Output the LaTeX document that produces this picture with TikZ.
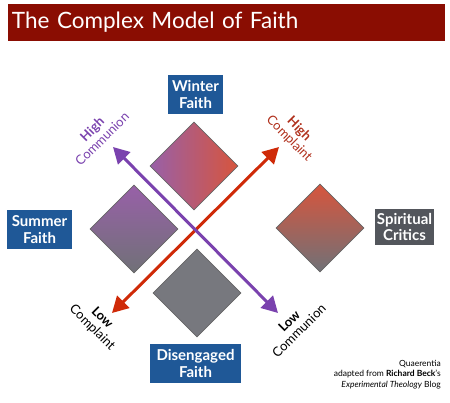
\documentclass[tikz,border=0pt]{standalone}
\usepackage{fontspec}
\setmainfont{Lato}
\usetikzlibrary{positioning}
\usetikzlibrary{arrows.meta}
\usetikzlibrary{shapes.geometric}
\definecolor{titlered}{HTML}{8A0D02}
\definecolor{faithblue}{HTML}{1F5897}
\definecolor{criticgrey}{HTML}{53565C}
\definecolor{commpurple}{HTML}{7A42AE}
\definecolor{complred}{HTML}{CF2A08}
\definecolor{softpurple}{HTML}{9860A8}
\definecolor{softred}{HTML}{D7553D}
\definecolor{slate}{HTML}{707177}
\definecolor{labelred}{HTML}{B0301C}

\begin{document}
\begin{tikzpicture}[x=1pt, y=-1pt,
    every node/.style={align=center},
    quad/.style={diamond, draw=black!60, line width=0.6pt, minimum width=88pt, minimum height=88pt, inner sep=0pt},
    faith/.style={fill=faithblue, text=white, font=\fontsize{15}{16.5}\selectfont\bfseries, inner sep=0pt, minimum height=39pt},
    axis/.style={line width=3pt, {Triangle[length=16pt,width=17pt]}-{Triangle[length=16pt,width=17pt]}},
    pole/.style={font=\fontsize{13}{14}\selectfont, inner sep=1pt}]
    \useasboundingbox (0,0) rectangle (450,403);
    % title bar
    \node[fill=titlered, text=white, font=\fontsize{22.5}{22.5}\selectfont, text width=429pt, align=left,
          inner xsep=4pt, inner ysep=0pt, minimum height=36.5pt] (title) at (226.5,22.5) {The Complex Model of Faith};
    % quadrants
    \node[quad, left color=softpurple, right color=softred] (winter) at (194,166) {};
    \node[quad, top color=softpurple, bottom color=slate] (summer) at (134,229) {};
    \node[quad, top color=softred, bottom color=slate] (critics) at (320,228) {};
    \node[quad, fill=slate!95!white] (disengaged) at (197,293) {};
    % names
    \node[faith, minimum width=55pt] (winterlbl) at (195.5,94.5) {Winter\\Faith};
    \node[faith, minimum width=65pt] (summerlbl) at (39.5,229.5) {Summer\\Faith};
    \node[faith, fill=criticgrey, minimum width=59pt, minimum height=36pt] (criticslbl) at (404.5,227) {Spiritual\\Critics};
    \node[faith, minimum width=91pt] (disengagedlbl) at (195.5,363.5) {Disengaged\\Faith};
    % axes
    \coordinate (hicomm) at (113,147);
    \coordinate (locomm) at (278,313);
    \coordinate (hicompl) at (279,147);
    \coordinate (locompl) at (112,313);
    \draw[axis, complred] (locompl) -- (hicompl);
    \draw[axis, commpurple] (hicomm) -- (locomm);
    % pole labels
    \node[pole, rotate=45, text=commpurple] (hicommlbl) at (97,134) {\textbf{High}\\Communion};
    \node[pole, rotate=-45, text=labelred] (hicompllbl) at (294,134) {\textbf{High}\\Complaint};
    \node[pole, rotate=-45] (locompllbl) at (97,323) {\textbf{Low}\\Complaint};
    \node[pole, rotate=45] (locommlbl) at (294,326) {\textbf{Low}\\Communion};
    % credit
    \node[font=\fontsize{8.5}{10.5}\selectfont, align=right, anchor=north east, inner sep=0pt] (credit) at (441,360)
        {Quaerentia\\adapted from \textbf{Richard Beck}'s\\\textit{Experimental Theology} Blog};
\end{tikzpicture}
\end{document}
